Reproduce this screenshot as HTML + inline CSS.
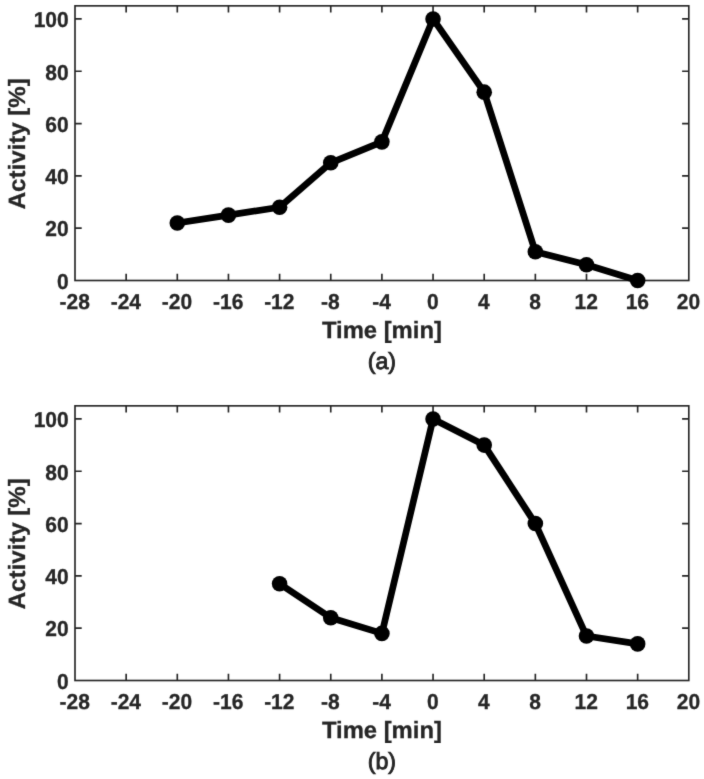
<!DOCTYPE html>
<html><head><meta charset="utf-8"><title>Activity vs Time</title>
<style>html,body{margin:0;padding:0;background:#fff;width:704px;height:779px;overflow:hidden}svg{display:block}</style>
</head><body>
<svg width="704" height="779" viewBox="0 0 704 779">
<style>
text{font-family:"Liberation Sans",Arial,Helvetica,sans-serif;font-weight:bold;fill:#262626;text-rendering:geometricPrecision}
.t{font-size:21.5px;stroke:#262626;stroke-width:0.3px}
.l{font-size:23.5px;stroke:#262626;stroke-width:0.3px}
.s{font-size:23.2px;font-weight:normal;stroke:#262626;stroke-width:0.9px}
circle{fill:#000}
</style>
<defs><filter id="f" color-interpolation-filters="sRGB" x="0" y="0" width="704" height="779" filterUnits="userSpaceOnUse"><feConvolveMatrix order="3" kernelMatrix="0.0113 0.0838 0.0113 0.0838 0.6193 0.0838 0.0113 0.0838 0.0113" divisor="1" edgeMode="duplicate" preserveAlpha="false"/></filter></defs>
<g filter="url(#f)">
<rect width="704" height="779" fill="#fff"/>
<rect x="75.0" y="5.85" width="613.80" height="274.65" fill="none" stroke="#262626" stroke-width="1.65"/>
<path d="M126.15 280.50v-6.7M126.15 5.85v6.7M177.30 280.50v-6.7M177.30 5.85v6.7M228.45 280.50v-6.7M228.45 5.85v6.7M279.60 280.50v-6.7M279.60 5.85v6.7M330.75 280.50v-6.7M330.75 5.85v6.7M381.90 280.50v-6.7M381.90 5.85v6.7M433.05 280.50v-6.7M433.05 5.85v6.7M484.20 280.50v-6.7M484.20 5.85v6.7M535.35 280.50v-6.7M535.35 5.85v6.7M586.50 280.50v-6.7M586.50 5.85v6.7M637.65 280.50v-6.7M637.65 5.85v6.7M75.00 228.19h6.7M688.80 228.19h-6.7M75.00 175.87h6.7M688.80 175.87h-6.7M75.00 123.56h6.7M688.80 123.56h-6.7M75.00 71.24h6.7M688.80 71.24h-6.7M75.00 18.93h6.7M688.80 18.93h-6.7" stroke="#262626" stroke-width="1.65" fill="none"/>
<polyline points="177.30,222.95 228.45,215.11 279.60,207.26 330.75,162.79 381.90,141.87 433.05,18.93 484.20,92.17 535.35,251.73 586.50,264.81 637.65,280.50" fill="none" stroke="#000" stroke-width="6.7" stroke-linejoin="round"/>
<circle cx="177.30" cy="222.95" r="7.8"/>
<circle cx="228.45" cy="215.11" r="7.8"/>
<circle cx="279.60" cy="207.26" r="7.8"/>
<circle cx="330.75" cy="162.79" r="7.8"/>
<circle cx="381.90" cy="141.87" r="7.8"/>
<circle cx="433.05" cy="18.93" r="7.8"/>
<circle cx="484.20" cy="92.17" r="7.8"/>
<circle cx="535.35" cy="251.73" r="7.8"/>
<circle cx="586.50" cy="264.81" r="7.8"/>
<circle cx="637.65" cy="280.50" r="7.8"/>
<text class="t" transform="translate(74.70,308.60) scale(0.977,1)" text-anchor="middle">-28</text>
<text class="t" transform="translate(125.85,308.60) scale(0.977,1)" text-anchor="middle">-24</text>
<text class="t" transform="translate(177.00,308.60) scale(0.977,1)" text-anchor="middle">-20</text>
<text class="t" transform="translate(228.15,308.60) scale(0.977,1)" text-anchor="middle">-16</text>
<text class="t" transform="translate(279.30,308.60) scale(0.977,1)" text-anchor="middle">-12</text>
<text class="t" transform="translate(330.45,308.60) scale(0.977,1)" text-anchor="middle">-8</text>
<text class="t" transform="translate(381.60,308.60) scale(0.977,1)" text-anchor="middle">-4</text>
<text class="t" transform="translate(432.75,308.60) scale(0.977,1)" text-anchor="middle">0</text>
<text class="t" transform="translate(483.90,308.60) scale(0.977,1)" text-anchor="middle">4</text>
<text class="t" transform="translate(535.05,308.60) scale(0.977,1)" text-anchor="middle">8</text>
<text class="t" transform="translate(586.20,308.60) scale(0.977,1)" text-anchor="middle">12</text>
<text class="t" transform="translate(637.35,308.60) scale(0.977,1)" text-anchor="middle">16</text>
<text class="t" transform="translate(688.50,308.60) scale(0.977,1)" text-anchor="middle">20</text>
<text class="t" transform="translate(68.70,288.80) scale(0.977,1)" text-anchor="end">0</text>
<text class="t" transform="translate(68.70,236.49) scale(0.977,1)" text-anchor="end">20</text>
<text class="t" transform="translate(68.70,184.17) scale(0.977,1)" text-anchor="end">40</text>
<text class="t" transform="translate(68.70,131.86) scale(0.977,1)" text-anchor="end">60</text>
<text class="t" transform="translate(68.70,79.54) scale(0.977,1)" text-anchor="end">80</text>
<text class="t" transform="translate(68.70,27.23) scale(0.977,1)" text-anchor="end">100</text>
<text class="l" x="381.90" y="338.10" text-anchor="middle" textLength="120" lengthAdjust="spacingAndGlyphs">Time [min]</text>
<text class="s" x="381.90" y="369.00" text-anchor="middle">(a)</text>
<text class="l" transform="translate(25.4,143.78) rotate(-90)" x="0" y="0" text-anchor="middle" textLength="131" lengthAdjust="spacingAndGlyphs">Activity [%]</text>
<rect x="75.0" y="405.85" width="613.80" height="274.65" fill="none" stroke="#262626" stroke-width="1.65"/>
<path d="M126.15 680.50v-6.7M126.15 405.85v6.7M177.30 680.50v-6.7M177.30 405.85v6.7M228.45 680.50v-6.7M228.45 405.85v6.7M279.60 680.50v-6.7M279.60 405.85v6.7M330.75 680.50v-6.7M330.75 405.85v6.7M381.90 680.50v-6.7M381.90 405.85v6.7M433.05 680.50v-6.7M433.05 405.85v6.7M484.20 680.50v-6.7M484.20 405.85v6.7M535.35 680.50v-6.7M535.35 405.85v6.7M586.50 680.50v-6.7M586.50 405.85v6.7M637.65 680.50v-6.7M637.65 405.85v6.7M75.00 628.19h6.7M688.80 628.19h-6.7M75.00 575.87h6.7M688.80 575.87h-6.7M75.00 523.56h6.7M688.80 523.56h-6.7M75.00 471.24h6.7M688.80 471.24h-6.7M75.00 418.93h6.7M688.80 418.93h-6.7" stroke="#262626" stroke-width="1.65" fill="none"/>
<polyline points="279.60,583.72 330.75,617.72 381.90,633.42 433.05,418.93 484.20,445.09 535.35,523.56 586.50,636.03 637.65,643.88" fill="none" stroke="#000" stroke-width="6.7" stroke-linejoin="round"/>
<circle cx="279.60" cy="583.72" r="7.8"/>
<circle cx="330.75" cy="617.72" r="7.8"/>
<circle cx="381.90" cy="633.42" r="7.8"/>
<circle cx="433.05" cy="418.93" r="7.8"/>
<circle cx="484.20" cy="445.09" r="7.8"/>
<circle cx="535.35" cy="523.56" r="7.8"/>
<circle cx="586.50" cy="636.03" r="7.8"/>
<circle cx="637.65" cy="643.88" r="7.8"/>
<text class="t" transform="translate(74.70,708.60) scale(0.977,1)" text-anchor="middle">-28</text>
<text class="t" transform="translate(125.85,708.60) scale(0.977,1)" text-anchor="middle">-24</text>
<text class="t" transform="translate(177.00,708.60) scale(0.977,1)" text-anchor="middle">-20</text>
<text class="t" transform="translate(228.15,708.60) scale(0.977,1)" text-anchor="middle">-16</text>
<text class="t" transform="translate(279.30,708.60) scale(0.977,1)" text-anchor="middle">-12</text>
<text class="t" transform="translate(330.45,708.60) scale(0.977,1)" text-anchor="middle">-8</text>
<text class="t" transform="translate(381.60,708.60) scale(0.977,1)" text-anchor="middle">-4</text>
<text class="t" transform="translate(432.75,708.60) scale(0.977,1)" text-anchor="middle">0</text>
<text class="t" transform="translate(483.90,708.60) scale(0.977,1)" text-anchor="middle">4</text>
<text class="t" transform="translate(535.05,708.60) scale(0.977,1)" text-anchor="middle">8</text>
<text class="t" transform="translate(586.20,708.60) scale(0.977,1)" text-anchor="middle">12</text>
<text class="t" transform="translate(637.35,708.60) scale(0.977,1)" text-anchor="middle">16</text>
<text class="t" transform="translate(688.50,708.60) scale(0.977,1)" text-anchor="middle">20</text>
<text class="t" transform="translate(68.70,688.80) scale(0.977,1)" text-anchor="end">0</text>
<text class="t" transform="translate(68.70,636.49) scale(0.977,1)" text-anchor="end">20</text>
<text class="t" transform="translate(68.70,584.17) scale(0.977,1)" text-anchor="end">40</text>
<text class="t" transform="translate(68.70,531.86) scale(0.977,1)" text-anchor="end">60</text>
<text class="t" transform="translate(68.70,479.54) scale(0.977,1)" text-anchor="end">80</text>
<text class="t" transform="translate(68.70,427.23) scale(0.977,1)" text-anchor="end">100</text>
<text class="l" x="381.90" y="738.10" text-anchor="middle" textLength="120" lengthAdjust="spacingAndGlyphs">Time [min]</text>
<text class="s" x="381.90" y="769.00" text-anchor="middle">(b)</text>
<text class="l" transform="translate(25.4,543.77) rotate(-90)" x="0" y="0" text-anchor="middle" textLength="131" lengthAdjust="spacingAndGlyphs">Activity [%]</text>
</g>
</svg>
</body></html>
